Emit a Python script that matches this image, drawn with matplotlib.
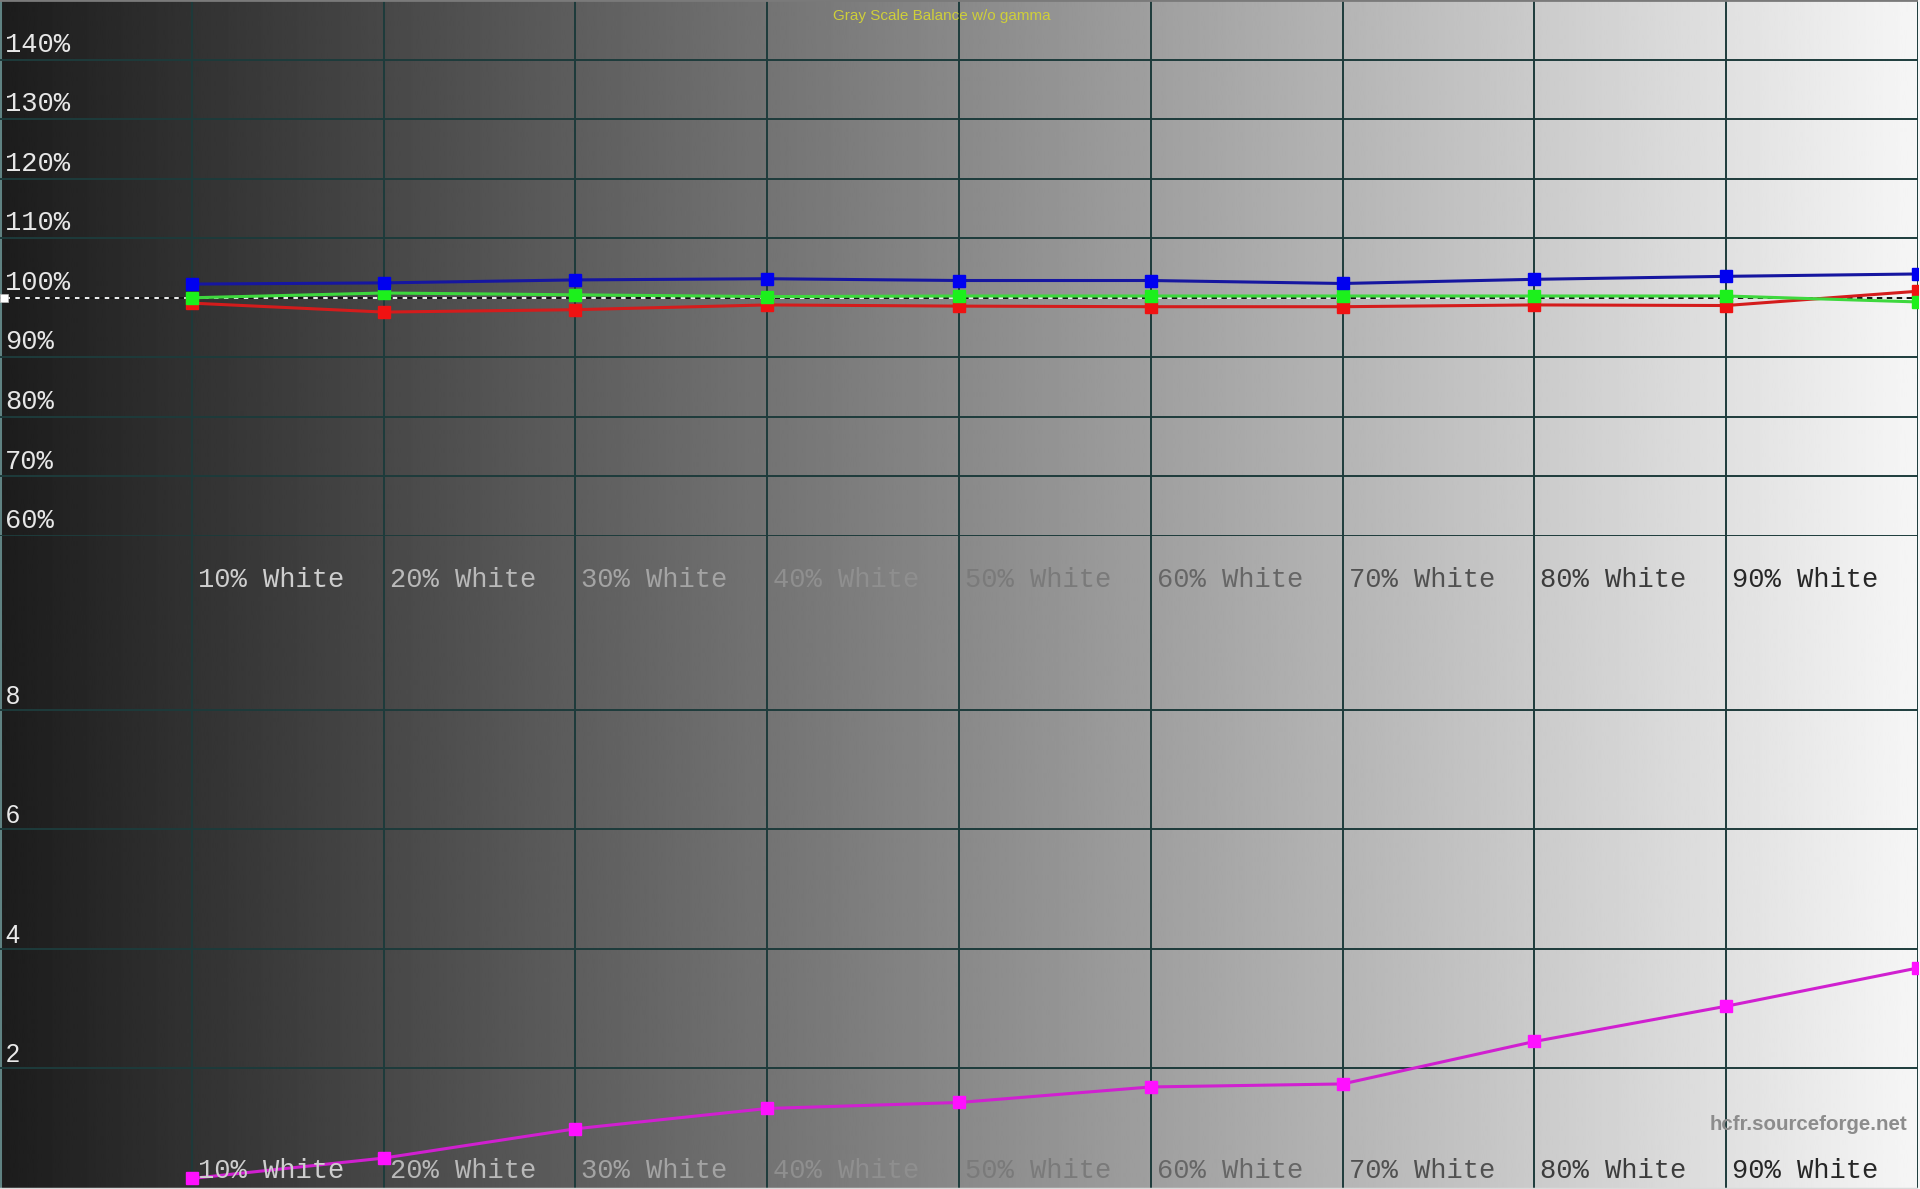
import numpy as np
import matplotlib
matplotlib.use("Agg")
import matplotlib.pyplot as plt
from matplotlib import transforms

# ---------------- data ----------------
levels = [10, 20, 30, 40, 50, 60, 70, 80, 90, 100]
x_labels = ["10% White", "20% White", "30% White", "40% White", "50% White",
            "60% White", "70% White", "80% White", "90% White"]
red = [99.1, 97.6, 98.0, 98.8, 98.6, 98.5, 98.5, 98.8, 98.7, 101.1]
green = [100.0, 100.8, 100.5, 100.2, 100.3, 100.3, 100.3, 100.3, 100.3, 99.3]
blue = [102.3, 102.5, 103.0, 103.2, 102.9, 102.9, 102.4, 103.1, 103.6, 104.0]
delta_e = [0.16, 0.50, 0.99, 1.33, 1.43, 1.69, 1.74, 2.45, 3.04, 3.68]
top_ticks = [60, 70, 80, 90, 100, 110, 120, 130, 140]
bottom_ticks = [2, 4, 6, 8]
target = 100

title = "Gray Scale Balance w/o gamma"
watermark = "hcfr.sourceforge.net"

# ---------------- layout ----------------
W, H, DPI = 1920, 1189, 100
PLOT_W = 1918  # pixel width of the 0..100 x range
fig = plt.figure(figsize=(W / DPI, H / DPI), dpi=DPI)
fig.patch.set_facecolor("#f6f6f6")
AXW = PLOT_W / W

BG_LO, BG_HI = 28, 246


def bg_level(px):
    return BG_LO + (BG_HI - BG_LO) * px / PLOT_W


def inv_color(px):
    v = (262 - 0.955 * bg_level(px)) / 255.0
    v = min(max(v, 0), 1)
    return (v, v, v)


grid_c = "#1d3b3b"

# background gradient axes
bg = fig.add_axes([0, 0, AXW, 1], zorder=0)
bg.set_xlim(0, 100)
bg.set_ylim(0, 1)
bg.axis("off")
ramp = np.linspace(BG_LO, BG_HI, 1024)[None, :]
bg.imshow(ramp, cmap="gray", vmin=0, vmax=255, aspect="auto",
          extent=[0, 100, 0, 1], interpolation="bilinear")
for lv in levels:
    bg.axvline(lv, color=grid_c, lw=1.4, zorder=2)
bg.axvline(0, color="#5f8282", lw=2.2, zorder=3)
bg.axhline(1, color="#7a7a7a", lw=2.0, zorder=3)
bg.axhline(0, color="#dadada", lw=2.5, zorder=3)

# top panel
top_h = 536 / H
ax_t = fig.add_axes([0, 1 - top_h, AXW, top_h], zorder=2)
ax_t.set_xlim(0, 100)
ax_t.set_ylim(60, 150)
ax_t.patch.set_alpha(0)
ax_t.axis("off")
for v in top_ticks:
    ax_t.axhline(v, color=grid_c, lw=1.4, zorder=1)
ax_t.axhline(target, color="white", lw=1.3, zorder=2)
ax_t.axhline(target, color="black", lw=1.3, dashes=(3, 2.5), zorder=2)
mark_tr = transforms.offset_copy(ax_t.transData, fig=fig, x=3.5, y=0, units="dots")
ax_t.plot([0], [target], marker="s", ms=5.5, color="white", mec="#bbbbbb",
          mew=0.5, transform=mark_tr, clip_on=False, zorder=6)

series = [
    (red, "#d41c1c", "#f01212"),
    (green, "#3ed83e", "#1cf01c"),
    (blue, "#1616a0", "#0000f0"),
]
for vals, lc, mc in series:
    ax_t.plot(levels, vals, color=lc, lw=2.2, marker="s", ms=8.5,
              mfc=mc, mec=mc, zorder=4)

# bottom panel
bot_h = 598 / H
ax_b = fig.add_axes([0, 1 / H, AXW, bot_h], zorder=2)
ax_b.set_xlim(0, 100)
ax_b.set_ylim(0, 10)
ax_b.patch.set_alpha(0)
ax_b.axis("off")
for v in bottom_ticks:
    ax_b.axhline(v, color=grid_c, lw=1.4, zorder=1)
ax_b.plot(levels, delta_e, color="#d020d0", lw=2.2, marker="s", ms=8.5,
          mfc="#ff10ff", mec="#ff10ff", zorder=4)

# ---------------- texts ----------------
MONO = "Liberation Mono"
SANS = "Liberation Sans"
px_per_unit = PLOT_W / 100.0

for lv, lab in zip(levels, x_labels):
    cx = lv * px_per_unit + 80
    ax_t.annotate(lab, xy=(lv, 60), xytext=(4.3, -31.7), textcoords="offset points",
                  ha="left", va="center", fontfamily=MONO, fontsize=19.5,
                  color=inv_color(cx), annotation_clip=False, zorder=5)
    ax_b.annotate(lab, xy=(lv, 0), xytext=(4.3, 12.3), textcoords="offset points",
                  ha="left", va="center", fontfamily=MONO, fontsize=19.5,
                  color=inv_color(cx), annotation_clip=False, zorder=5)

for v in top_ticks:
    ax_t.annotate(f"{v}%", xy=(0, v), xytext=(3.6, 10.7), textcoords="offset points",
                  ha="left", va="center", fontfamily=MONO, fontsize=19.5,
                  color=inv_color(38), annotation_clip=False, zorder=5)

for v in bottom_ticks:
    ax_b.annotate(f"{v}", xy=(0, v), xytext=(4.0, 9.4), textcoords="offset points",
                  ha="left", va="center", fontfamily=SANS, fontsize=18,
                  color=inv_color(14), annotation_clip=False, zorder=5)

fig.text(942 / W, 1 - 16 / H, title, ha="center", va="center",
         fontfamily=SANS, fontsize=11, color="#cfcf3a", zorder=10)
fig.text(1907 / W, 1 - 1125 / H, watermark, ha="right", va="center",
         fontfamily=SANS, fontweight="bold", fontsize=14.8, color="#8c8c8c", zorder=10)

fig.savefig("out.png", dpi=DPI)
